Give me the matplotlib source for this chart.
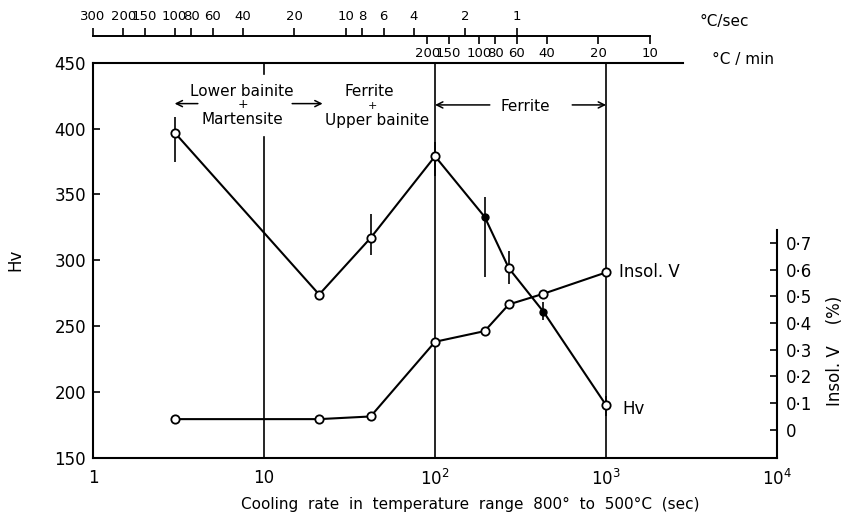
import numpy as np
import matplotlib
matplotlib.use('Agg')
import matplotlib.pyplot as plt
from matplotlib.ticker import NullLocator

plt.rcParams['font.family'] = 'DejaVu Sans'
plt.rcParams['font.size'] = 11

# cooling time 800 -> 500 C (sec) of each specimen
cool_time = [3, 21, 42, 100, 195, 270, 430, 1000]
hv = [397, 274, 317, 379, 333, 294, 261, 190]
hv_low = [375, 270, 304, 364, 287, 282, 255, 182]
hv_high = [409, 277, 335, 390, 348, 307, 268, 197]
hv_filled = [False, False, False, False, True, False, True, False]
insol_v = [0.04, 0.04, 0.05, 0.33, 0.37, 0.47, 0.51, 0.59]

phase_lines = [10, 100, 1000]

x_ticks = [1, 10, 100, 1000, 10000]
x_labels = ['1', '10', '$10^2$', '$10^3$', '$10^4$']
hv_ticks = [150, 200, 250, 300, 350, 400, 450]
insol_ticks = [0, 0.1, 0.2, 0.3, 0.4, 0.5, 0.6, 0.7]
insol_labels = ['0', '0·1', '0·2', '0·3', '0·4', '0·5', '0·6', '0·7']
rate_sec_ticks = [300, 200, 150, 100, 80, 60, 40, 20, 10, 8, 6, 4, 2, 1]
rate_min_ticks = [200, 150, 100, 80, 60, 40, 20, 10]


def sec_rate(t):
    # 300 C drop over t seconds -> C/sec
    with np.errstate(divide='ignore', invalid='ignore'):
        return 300.0 / np.asarray(t, dtype=float)


def min_rate(t):
    with np.errstate(divide='ignore', invalid='ignore'):
        return 18000.0 / np.asarray(t, dtype=float)


fig = plt.figure(figsize=(8.46, 5.25), dpi=100)
ax = fig.add_axes([0.110, 0.128, 0.8085, 0.7524])
ax.set_xscale('log')
ax.set_xlim(1, 10000)
ax.set_ylim(150, 450)

# phase boundaries
ax.axvline(phase_lines[0], ymin=0, ymax=0.813, color='k', lw=1.2)
ax.axvline(phase_lines[0], ymin=0.972, ymax=1, color='k', lw=1.2)
for x in phase_lines[1:]:
    ax.axvline(x, color='k', lw=1.2)

# Hv
t = np.array(cool_time)
h = np.array(hv)
filled = np.array(hv_filled)
ax.vlines(t, hv_low, hv_high, color='k', lw=1.2)
ax.plot(t, h, color='k', lw=1.5)
ax.plot(t[~filled], h[~filled], 'o', ms=6, mfc='white', mec='k', mew=1.3)
ax.plot(t[filled], h[filled], 'o', ms=5, mfc='k', mec='k')

ax.set_xticks(x_ticks, x_labels)
ax.xaxis.set_minor_locator(NullLocator())
ax.tick_params(axis='x', length=0, pad=8, labelsize=12)
ax.set_yticks(hv_ticks)
ax.tick_params(axis='y', direction='in', length=5, width=1.2, pad=5, labelsize=12)
ax.set_ylabel('Hv', fontsize=12)
ax.yaxis.set_label_coords(-0.1, 0.5)
ax.set_xlabel('Cooling  rate  in  temperature  range  800°  to  500°C  (sec)', fontsize=11)
ax.xaxis.set_label_coords(0.551, -0.1)

for s in ['left', 'bottom', 'top']:
    ax.spines[s].set_linewidth(1.5)
ax.spines['right'].set_visible(False)
ax.spines['top'].set_bounds(1, 2800)

# Insol. V on the right
ax2 = ax.twinx()
ax2.set_ylim(-0.105, 1.376)
ax2.plot(cool_time, insol_v, '-o', color='k', lw=1.5, ms=6, mfc='white', mec='k', mew=1.3)
ax2.set_yticks(insol_ticks, insol_labels)
ax2.tick_params(axis='y', direction='in', length=5, width=1.2, pad=6, labelsize=12)
for s in ['left', 'bottom', 'top']:
    ax2.spines[s].set_visible(False)
ax2.spines['right'].set_linewidth(1.5)
ax2.spines['right'].set_bounds(-0.105, 0.75)
ax2.set_ylabel('Insol. V    (%)', fontsize=12)
ax2.yaxis.set_label_coords(1.072, 0.27)

ax.annotate('Hv', xy=(cool_time[-1], hv[-1]), xytext=(12, -3),
            textcoords='offset points', va='center', fontsize=12)
ax2.annotate('Insol. V', xy=(cool_time[-1], insol_v[-1]), xytext=(9, 0),
             textcoords='offset points', va='center', fontsize=12)

# structure labels
ax.text(7.4, 428, 'Lower bainite', ha='center', va='center')
ax.text(7.5, 418, '+', ha='center', va='center', fontsize=9)
ax.text(7.5, 407, 'Martensite', ha='center', va='center')
ax.text(41, 428, 'Ferrite', ha='center', va='center')
ax.text(43, 417, '+', ha='center', va='center', fontsize=8)
ax.text(46, 406, 'Upper bainite', ha='center', va='center')
ax.text(336, 417, 'Ferrite', ha='center', va='center')
arrow = dict(arrowstyle='->', lw=1.1, color='k', shrinkA=0, shrinkB=0)
ax.annotate('', xy=(3.0, 419), xytext=(4.1, 419), arrowprops=arrow)
ax.annotate('', xy=(22, 419), xytext=(14.6, 419), arrowprops=arrow)
ax.annotate('', xy=(100, 418), xytext=(209, 418), arrowprops=arrow)
ax.annotate('', xy=(1000, 418), xytext=(634, 418), arrowprops=arrow)

# cooling rate scales on top
sec = ax.secondary_xaxis(1.068, functions=(sec_rate, sec_rate))
sec.set_ticks(rate_sec_ticks, labels=[str(v) for v in rate_sec_ticks])
sec.xaxis.set_minor_locator(NullLocator())
sec.tick_params(direction='out', length=6, width=1.2, pad=3, labelsize=9.5)
sec.spines['top'].set_linewidth(1.4)
sec.spines['top'].set_bounds(300 / 1800, 300)

smin = ax.secondary_xaxis(1.068, functions=(min_rate, min_rate))
smin.set_alignment('bottom')
smin.set_ticks(rate_min_ticks, labels=[str(v) for v in rate_min_ticks])
smin.xaxis.set_minor_locator(NullLocator())
smin.tick_params(direction='out', length=6, width=1.2, pad=2, labelsize=9.5)
smin.spines['bottom'].set_visible(False)

ax.text(0.887, 1.104, '°C/sec', transform=ax.transAxes, va='center', fontsize=11)
ax.text(0.905, 1.008, '°C / min', transform=ax.transAxes, va='center', fontsize=11)

fig.savefig('out.png', dpi=100)
